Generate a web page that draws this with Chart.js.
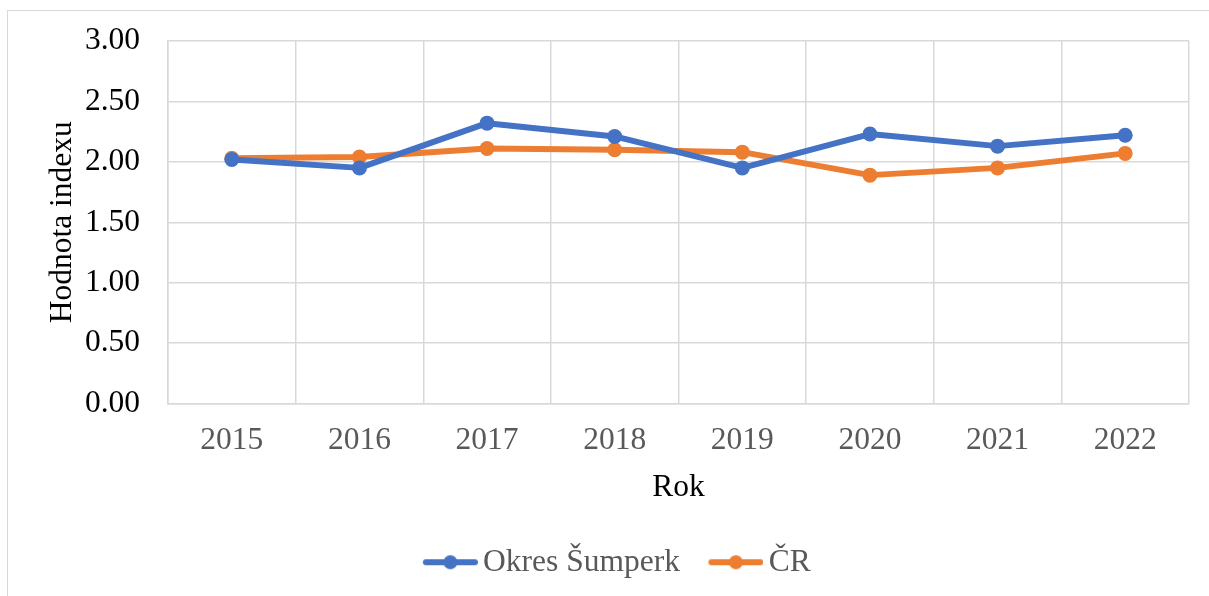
<!DOCTYPE html>
<html>
<head>
<meta charset="utf-8">
<script src="https://cdn.jsdelivr.net/npm/chart.js@4"></script>
<style>
  body { margin: 0; background: #fff; }
  #ramecek { position: absolute; left: 7px; top: 10px; width: 1220px; height: 620px; border: 1px solid #D9D9D9; }
  #obal { position: absolute; left: 0; top: 0; width: 1209px; height: 596px; }
</style>
</head>
<body>
<div id="ramecek"></div>
<div id="obal"><canvas id="graf"></canvas></div>
<script>
// data
const roky = ['2015', '2016', '2017', '2018', '2019', '2020', '2021', '2022'];
const sumperk = [2.02, 1.95, 2.32, 2.21, 1.95, 2.23, 2.13, 2.22];
const cr = [2.03, 2.04, 2.11, 2.10, 2.08, 1.89, 1.95, 2.07];

const modra = '#4472C4';
const oranzova = '#ED7D31';
const mrizka = '#D9D9D9';
const pismo = 'Liberation Serif, Times New Roman, serif';
const velikost = 31.5;

// znacka do legendy: cara s teckou (vlevo prazdne misto kvuli centrovani)
function znacka(barva) {
    const c = document.createElement('canvas');
    c.width = 66; c.height = 16;
    const g = c.getContext('2d');
    g.strokeStyle = barva;
    g.lineWidth = 6;
    g.lineCap = 'round';
    g.beginPath();
    g.moveTo(14, 8); g.lineTo(63, 8);
    g.stroke();
    g.fillStyle = barva;
    g.beginPath();
    g.arc(38.5, 8, 7, 0, Math.PI * 2);
    g.fill();
    return c;
}

const ctx = document.getElementById('graf').getContext('2d');
new Chart(ctx, {
    type: 'line',
    data: {
        labels: roky,
        datasets: [
            { label: 'Okres Šumperk', data: sumperk, borderColor: modra, backgroundColor: modra },
            { label: 'ČR', data: cr, borderColor: oranzova, backgroundColor: oranzova }
        ]
    },
    options: {
        responsive: true,
        maintainAspectRatio: false,
        animation: false,
        layout: { padding: { left: 44, right: 20, top: 41, bottom: 8 } },
        elements: {
            line: { borderWidth: 6, borderJoinStyle: 'round', borderCapStyle: 'round', tension: 0 },
            point: { radius: 7.5, hoverRadius: 7.5, borderWidth: 0 }
        },
        plugins: {
            tooltip: { enabled: false },
            legend: {
                position: 'bottom',
                labels: {
                    color: '#595959',
                    font: { family: pismo, size: velikost },
                    usePointStyle: true,
                    pointStyleWidth: 45,
                    padding: 28,
                    generateLabels(chart) {
                        return chart.data.datasets.map((ds, i) => ({
                            text: ds.label,
                            fontColor: '#595959',
                            pointStyle: znacka(ds.borderColor),
                            datasetIndex: i,
                            lineWidth: 0
                        }));
                    }
                }
            }
        },
        scales: {
            x: {
                offset: true,
                grid: { color: mrizka, lineWidth: 1.5, offset: true, drawTicks: false },
                border: { color: mrizka, width: 1.5 },
                ticks: { color: '#595959', font: { family: pismo, size: velikost }, padding: 18 },
                title: { display: true, text: 'Rok', color: '#000', font: { family: pismo, size: velikost }, padding: { top: 0, bottom: 12 } },
                afterFit(s) { s.height = 115; }
            },
            y: {
                min: 0,
                max: 3,
                grid: { color: mrizka, lineWidth: 1.5, drawTicks: false },
                border: { color: mrizka, width: 1.5 },
                ticks: {
                    stepSize: 0.5,
                    color: '#000',
                    font: { family: pismo, size: velikost },
                    padding: 28,
                    callback: v => v.toFixed(2)
                },
                title: { display: true, text: 'Hodnota indexu', color: '#000', font: { family: pismo, size: velikost }, padding: { top: 0, bottom: 0 } },
                afterFit(s) { s.width = 124; s.paddingTop = 0; s.paddingBottom = 0; }
            }
        }
    }
});
</script>
</body>
</html>
